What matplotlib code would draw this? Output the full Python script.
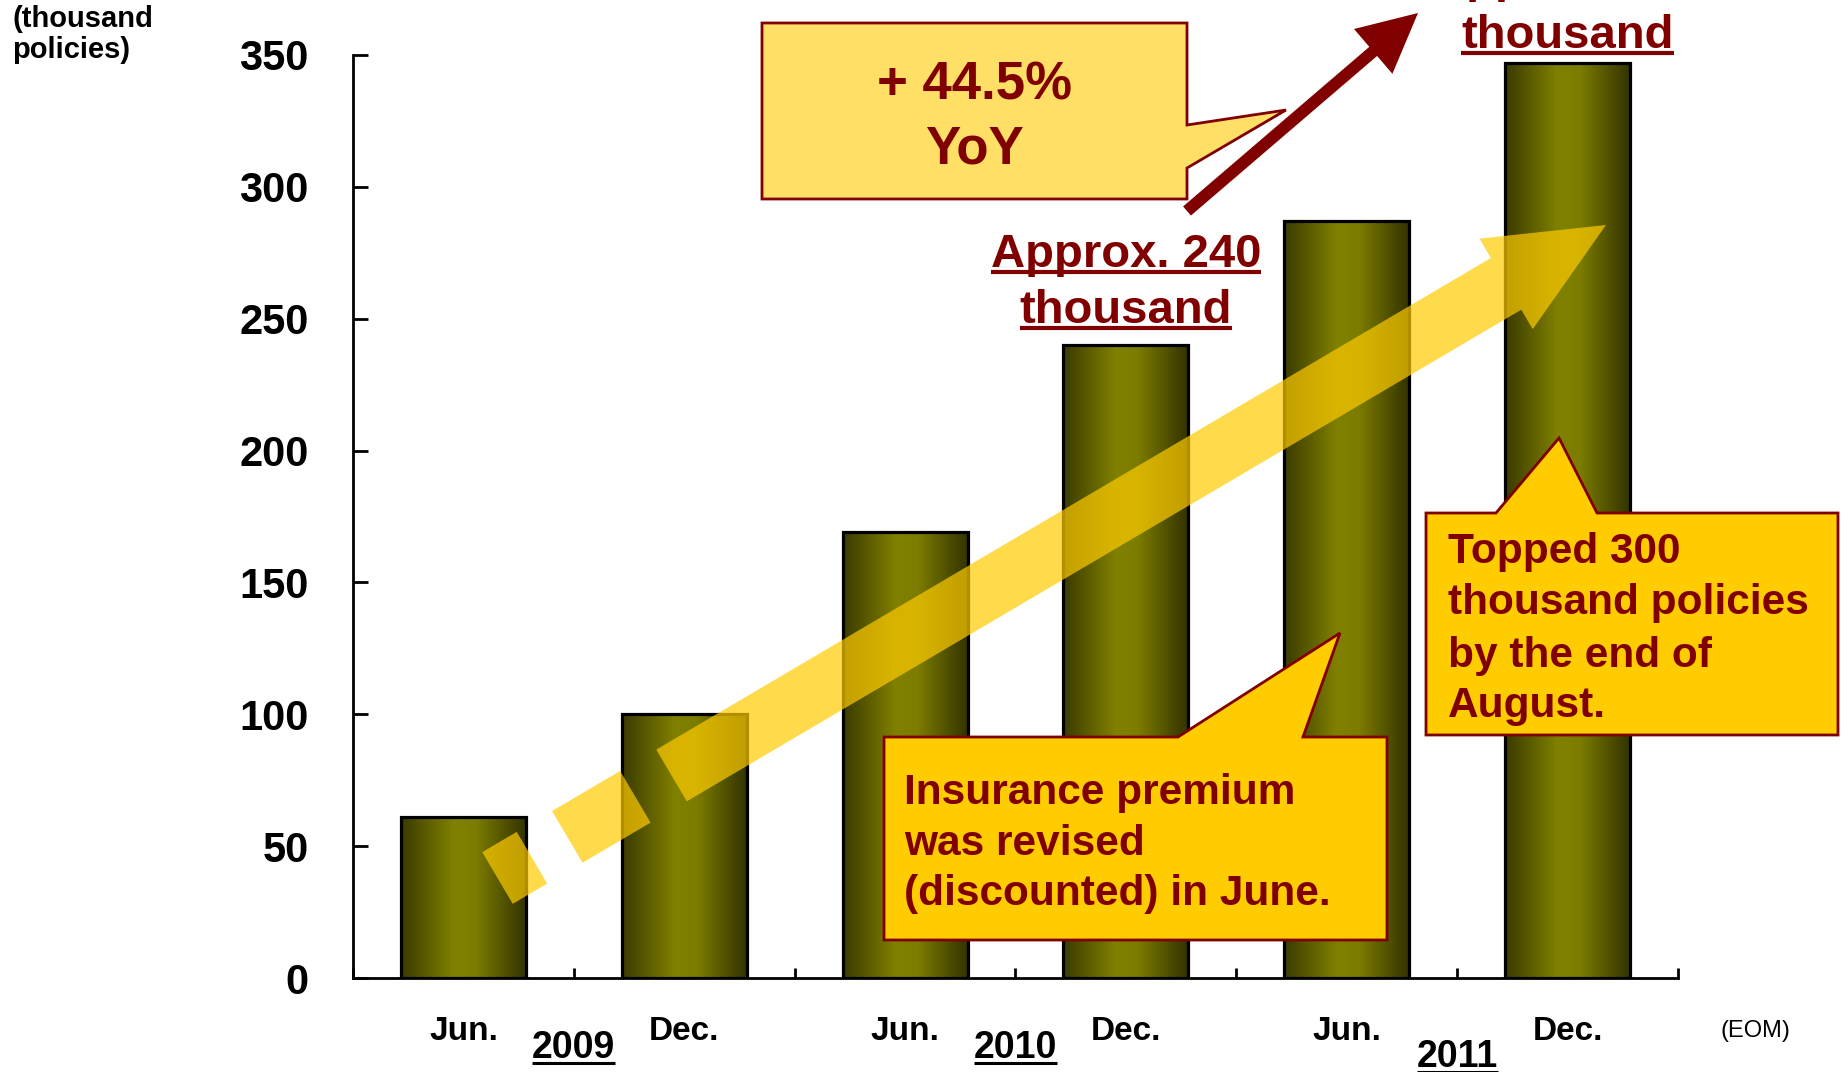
import numpy as np
import matplotlib.pyplot as plt
from matplotlib.colors import LinearSegmentedColormap
from matplotlib.patches import Polygon
from matplotlib.lines import Line2D
from matplotlib.transforms import blended_transform_factory

plt.rcParams['font.family'] = ['Liberation Sans', 'DejaVu Sans']
plt.rcParams['font.weight'] = 'bold'

# policies in force, thousand policies (end of month)
months = ['Jun.', 'Dec.', 'Jun.', 'Dec.', 'Jun.', 'Dec.']
years = ['2009', '2010', '2011']
policies = [61, 100, 169, 240, 287, 347]
yoy = 44.5
yticks = [0, 50, 100, 150, 200, 250, 300, 350]

DARKRED = '#800000'
W, H = 1848, 1072

fig = plt.figure(figsize=(W / 100, H / 100), dpi=100)
ax = fig.add_axes([353 / W, 1 - 978 / H, (1678 - 353) / W, (978 - 55) / H])


def pf(pts):
    # pixel (y down) -> figure fraction
    return [(p[0] / W, 1 - p[1] / H) for p in pts]


def fy(y):
    return 1 - y / H


# ---- bars with a horizontal olive gradient
x = np.arange(len(policies))
bars = ax.bar(x, policies, width=0.566, facecolor='none', edgecolor='black',
              linewidth=2.3, zorder=3)
olive = LinearSegmentedColormap.from_list(
    'olive', [(0, '#3a3a00'), (0.42, '#808000'), (0.6, '#7c7c00'), (1, '#333300')])
grad = np.linspace(0, 1, 256).reshape(1, -1)
for b in bars:
    im = ax.imshow(grad, cmap=olive, aspect='auto', zorder=2,
                   extent=(b.get_x(), b.get_x() + b.get_width(), 0, b.get_height()))
    im.set_clip_path(b)

ax.set_xlim(-0.5, len(policies) - 0.5)
ax.set_ylim(0, 350)
for s in ['top', 'right']:
    ax.spines[s].set_visible(False)
for s in ['left', 'bottom']:
    ax.spines[s].set_linewidth(2)
ax.set_yticks(yticks)
ax.set_yticklabels([str(v) for v in yticks])
ax.tick_params(axis='y', direction='in', length=11, width=2, pad=32, labelsize=30)
ax.set_xticks(np.arange(-0.5, len(policies), 1))
ax.tick_params(axis='x', direction='in', length=7, width=2, labelbottom=False)

xfig = blended_transform_factory(ax.transData, fig.transFigure)
underlined = []

# category labels
for i, m in enumerate(months):
    ax.text(i, fy(1040), m, transform=xfig, ha='center', va='baseline', fontsize=24)
year_base = [1058, 1058, 1067]
for k, yr in enumerate(years):
    t = ax.text(2 * k + 0.5, fy(year_base[k]), yr, transform=xfig, ha='center',
                va='baseline', fontsize=27)
    underlined.append((t, 5, 2.2, 'black'))
fig.text(1755 / W, fy(1037), '(EOM)', ha='center', va='baseline', fontsize=17,
         fontweight='normal')

# unit label
fig.text(12 / W, fy(27), '(thousand', ha='left', va='baseline', fontsize=21)
fig.text(12 / W, fy(58), 'policies)', ha='left', va='baseline', fontsize=21)

# "Approx." value labels above the December bars
for i, lines in [(3, (267, 323)), (5, (-8, 48))]:
    txt = ['Approx. %d' % round(policies[i], -1), 'thousand']
    for s, yb in zip(txt, lines):
        t = ax.text(i, fy(yb), s, transform=xfig, ha='center', va='baseline',
                    fontsize=34, color=DARKRED, zorder=6)
        underlined.append((t, 5, 3, DARKRED))


# ---- arrows
def band(tail, tip, width, s0, s1, head_width=None, head_len=None):
    tail = np.asarray(tail, float)
    tip = np.asarray(tip, float)
    u = (tip - tail) / np.linalg.norm(tip - tail)
    n = np.array([-u[1], u[0]])
    a = tail + u * s0
    if head_len is None:
        b = tail + u * s1
        return [a + n * width / 2, b + n * width / 2, b - n * width / 2, a - n * width / 2]
    b = tip - u * head_len
    return [a + n * width / 2, b + n * width / 2, b + n * head_width / 2, tip,
            b - n * head_width / 2, b - n * width / 2, a - n * width / 2]


# broad translucent trend arrow, dashed at its tail
ytail, ytip = (497.5, 878), (1606, 225)
for s0, s1 in [(0, 40), (81, 160)]:
    fig.add_artist(Polygon(pf(band(ytail, ytip, 60, s0, s1)), closed=True,
                           transform=fig.transFigure, fc='#FFCC00', ec='none',
                           alpha=0.7, zorder=4))
fig.add_artist(Polygon(pf(band(ytail, ytip, 60, 202, None, 105, 116)), closed=True,
                       transform=fig.transFigure, fc='#FFCC00', ec='none',
                       alpha=0.7, zorder=4))

# growth arrow
fig.add_artist(Polygon(pf(band((1187, 211), (1418, 13), 12, 0, None, 59, 59)),
                       closed=True, transform=fig.transFigure, fc=DARKRED,
                       ec='none', zorder=5))


# ---- callouts
def callout(pts, fc):
    fig.add_artist(Polygon(pf(pts), closed=True, transform=fig.transFigure, fc=fc,
                           ec=DARKRED, lw=2, zorder=5, joinstyle='miter'))


callout([(762, 23), (1187, 23), (1187, 125), (1286, 110), (1187, 168),
         (1187, 199), (762, 199)], '#FFDF66')
fig.text(974 / W, fy(99), '+ %.1f%%' % yoy, ha='center', va='baseline',
         fontsize=38, color=DARKRED, zorder=6)
fig.text(974 / W, fy(163), 'YoY', ha='center', va='baseline', fontsize=38,
         color=DARKRED, zorder=6)

callout([(1426, 513), (1496, 513), (1559, 438), (1597, 513), (1838, 513),
         (1838, 735), (1426, 735)], '#FFCC00')
for s, yb in zip(['Topped 300', 'thousand policies', 'by the end of', 'August.'],
                 [563, 614, 667, 717]):
    fig.text(1448 / W, fy(yb), s, ha='left', va='baseline', fontsize=30.5,
             color=DARKRED, zorder=6)

callout([(884, 737), (1178, 737), (1340, 633), (1303, 737), (1387, 737),
         (1387, 940), (884, 940)], '#FFCC00')
for s, yb in zip(['Insurance premium', 'was revised', '(discounted) in June.'],
                 [804, 855, 905]):
    fig.text(904 / W, fy(yb), s, ha='left', va='baseline', fontsize=30.5,
             color=DARKRED, zorder=6)

# underlines under the text baselines
fig.canvas.draw()
r = fig.canvas.get_renderer()
inv = fig.transFigure.inverted()
for t, off, lw, c in underlined:
    bb = t.get_window_extent(r)
    yb = t.get_transform().transform(t.get_position())[1] - off
    (x0, y0), (x1, _) = inv.transform([(bb.x0, yb), (bb.x1, yb)])
    fig.add_artist(Line2D([x0, x1], [y0, y0], transform=fig.transFigure,
                          color=c, lw=lw, zorder=6, solid_capstyle='butt'))

fig.savefig('out.png', dpi=100)
